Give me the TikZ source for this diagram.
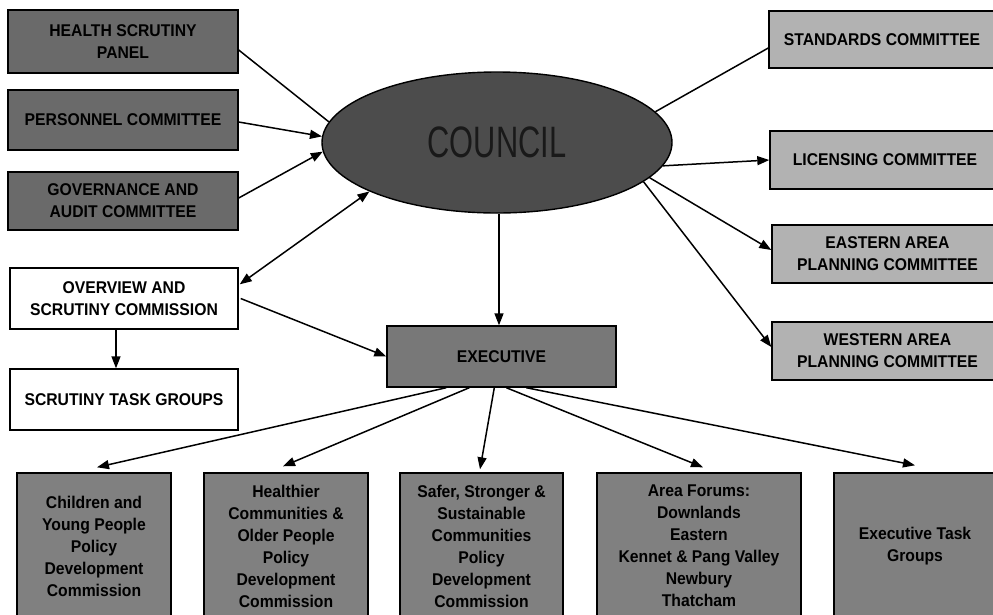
\documentclass[tikz,border=0pt]{standalone}
\usepackage{fontspec}
\setmainfont[FakeStretch=0.925]{Liberation Sans}
\newfontfamily\councilfont[FakeStretch=0.7]{Liberation Sans}
\usetikzlibrary{shapes.geometric,arrows.meta,calc}
\definecolor{darkbox}{HTML}{6A6A6A}
\definecolor{execbox}{HTML}{787878}
\definecolor{lowbox}{HTML}{808080}
\definecolor{lightbox}{HTML}{B2B2B2}
\definecolor{councilfill}{HTML}{4C4C4C}
\tikzset{
  box/.style={draw=black, line width=1.4pt, inner sep=2pt, align=center,
    font=\fontsize{17}{22}\selectfont\bfseries},
  conn/.style={line width=1.5pt, draw=black},
  arr/.style={conn, -{Triangle[length=12pt,width=9pt]}},
  darr/.style={conn, {Triangle[length=12pt,width=9pt]}-{Triangle[length=12pt,width=9pt]}},
}
\begin{document}
\begin{tikzpicture}[x=1pt,y=-1pt]
\clip (0,0) rectangle (993,614);
\fill[white] (0,0) rectangle (993,614);

% left column
\node[box, fill=darkbox, minimum width=230pt, minimum height=63pt] (health) at (123,41.5) {HEALTH SCRUTINY\\PANEL};
\node[box, fill=darkbox, minimum width=230pt, minimum height=60pt] (personnel) at (123,120) {PERSONNEL COMMITTEE};
\node[box, fill=darkbox, minimum width=230pt, minimum height=58pt] (governance) at (123,201) {GOVERNANCE AND\\AUDIT COMMITTEE};
\node[box, fill=white, minimum width=228pt, minimum height=61pt] (overview) at (124,298.5) {OVERVIEW AND\\SCRUTINY COMMISSION};
\node[box, fill=white, minimum width=228pt, minimum height=61pt] (stg) at (124,399.5) {SCRUTINY TASK GROUPS};

% council
\node[ellipse, draw=black, line width=1.4pt, fill=councilfill, minimum width=350pt, minimum height=141pt, inner sep=0pt,
  font=\councilfont\fontsize{44}{44}\selectfont, text=black!90] (council) at (497,142.5) {COUNCIL};

% right column
\node[box, fill=lightbox, minimum width=226pt, minimum height=57pt] (standards) at (882,39.5) {STANDARDS COMMITTEE};
\node[box, fill=lightbox, minimum width=230pt, minimum height=58pt] (licensing) at (885,160) {LICENSING COMMITTEE};
\node[box, fill=lightbox, minimum width=231pt, minimum height=58pt] (eastern) at (887.5,254) {EASTERN AREA\\PLANNING COMMITTEE};
\node[box, fill=lightbox, minimum width=231pt, minimum height=58pt] (western) at (887.5,351) {WESTERN AREA\\PLANNING COMMITTEE};

% executive
\node[box, fill=execbox, minimum width=229pt, minimum height=61pt] (exec) at (501.5,356.5) {EXECUTIVE};

% bottom row
\node[box, fill=lowbox, minimum width=154pt, minimum height=146pt] (b1) at (94,546) {Children and\\Young People\\Policy\\Development\\Commission};
\node[box, fill=lowbox, minimum width=164pt, minimum height=146pt] (b2) at (286,546) {Healthier\\Communities \&\\Older People\\Policy\\Development\\Commission};
\node[box, fill=lowbox, minimum width=163pt, minimum height=146pt] (b3) at (481.5,546) {Safer, Stronger \&\\Sustainable\\Communities\\Policy\\Development\\Commission};
\node[box, fill=lowbox, minimum width=204pt, minimum height=146pt] (b4) at (699,546) {Area Forums:\\Downlands\\Eastern\\Kennet \& Pang Valley\\Newbury\\Thatcham};
\node[box, fill=lowbox, minimum width=162pt, minimum height=146pt] (b5) at (915,546) {Executive Task\\Groups};

% connectors to council
\draw[conn] ($(health.east)+(0,8.5)$) -- (council.173);
\draw[arr] ($(personnel.east)+(0,2)$) -- (council.178);
\draw[arr] ($(governance.east)+(0,-3)$) -- (council.183);
\draw[darr] ($(overview.north east)+(1,17)$) -- (council.201);

% council to right
\draw[conn] (council.11.6) -- ($(standards.west)+(0,8.5)$);
\draw[arr] (council.-8.7) -- (licensing.west);
\draw[arr] (council.-13.6) -- ($(eastern.west)+(0,-4)$);
\draw[arr] (council.-15.5) -- ($(western.west)+(0,-4)$);

% council to executive
\draw[arr] ($(council.south)+(2,0)$) -- ($(exec.north)+(-2.5,0)$);

% overview
\draw[arr] ($(overview.east)+(2,0)$) -- (exec.west);
\draw[arr] ($(overview.south)+(-8,0)$) -- ($(stg.north)+(-8,0)$);

% executive to bottom
\draw[arr] ($(exec.south west)+(60,0)$) -- ($(b1.north)+(3,-5)$);
\draw[arr] ($(exec.south west)+(83,0)$) -- ($(b2.north)+(-3,-6)$);
\draw[arr] ($(exec.south west)+(108,0)$) -- ($(b3.north)+(-1.5,-3)$);
\draw[arr] ($(exec.south west)+(120,0)$) -- ($(b4.north)+(4,-5)$);
\draw[arr] ($(exec.south west)+(140,0)$) -- ($(b5.north)+(0,-7)$);
\end{tikzpicture}
\end{document}
